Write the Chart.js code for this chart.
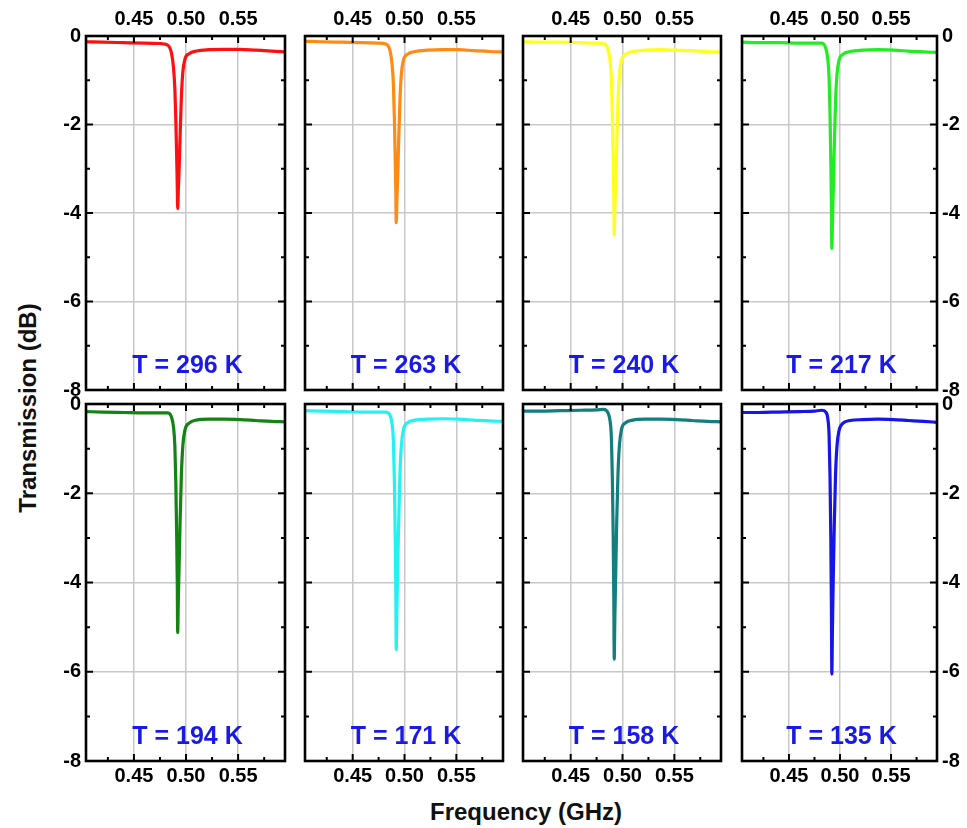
<!DOCTYPE html>
<html>
<head>
<meta charset="utf-8">
<script src="https://cdn.jsdelivr.net/npm/chart.js@4.4.1/dist/chart.umd.min.js"></script>
<style>
  body { margin: 0; background: #fff; }
  #wrap { position: relative; width: 967px; height: 828px; overflow: hidden; font-family: 'Liberation Sans', Arial, sans-serif; }
  #wrap canvas { position: absolute; }
  .axis-title { position: absolute; font-weight: bold; font-size: 24px; color: #111; white-space: nowrap; }
  #xTitle { left: 526px; top: 812px; transform: translate(-50%, -50%); }
  #yTitle { left: 28px; top: 408px; transform: translate(-50%, -50%) rotate(-90deg); }
</style>
</head>
<body>
<div id="wrap">
  <div class="axis-title" id="yTitle">Transmission (dB)</div>
  <div class="axis-title" id="xTitle">Frequency (GHz)</div>
</div>
<script>
// === Measured transmission (dB) vs frequency (GHz) ===
const freqGHz = [0.404, 0.42, 0.44, 0.46, 0.475, 0.482, 0.486, 0.488, 0.4893, 0.4902, 0.491, 0.4916, 0.492,
                 0.4926, 0.4934, 0.4944, 0.4956, 0.497, 0.499, 0.503, 0.51, 0.522, 0.537, 0.552, 0.567, 0.582, 0.595];

const temps = [296, 263, 240, 217, 194, 171, 158, 135];

const t296 = [-0.13, -0.14, -0.15, -0.16, -0.17, -0.2, -0.38, -0.72, -1.2, -1.9, -2.7, -3.4, -3.9,
              -3.5, -3.0, -2.2, -1.35, -0.8, -0.52, -0.4, -0.34, -0.31, -0.3, -0.3, -0.32, -0.34, -0.36];
const t263 = [-0.12, -0.13, -0.14, -0.15, -0.16, -0.18, -0.33, -0.64, -1.1, -1.85, -2.75, -3.55, -4.22,
              -3.75, -3.2, -2.35, -1.45, -0.85, -0.54, -0.41, -0.35, -0.32, -0.31, -0.31, -0.33, -0.35, -0.36];
const t240 = [-0.13, -0.14, -0.14, -0.15, -0.16, -0.17, -0.3, -0.57, -1.0, -1.8, -2.8, -3.7, -4.5,
              -3.95, -3.35, -2.45, -1.5, -0.88, -0.55, -0.41, -0.35, -0.32, -0.31, -0.32, -0.33, -0.35, -0.36];
const t217 = [-0.14, -0.15, -0.15, -0.16, -0.16, -0.16, -0.27, -0.52, -0.95, -1.75, -2.85, -3.85, -4.8,
              -4.2, -3.5, -2.5, -1.5, -0.88, -0.55, -0.41, -0.35, -0.32, -0.31, -0.32, -0.34, -0.36, -0.37];
const t194 = [-0.17, -0.18, -0.19, -0.2, -0.2, -0.2, -0.29, -0.52, -0.95, -1.75, -2.9, -4.0, -5.12,
              -4.4, -3.6, -2.55, -1.55, -0.92, -0.58, -0.43, -0.36, -0.34, -0.34, -0.35, -0.37, -0.39, -0.4];
const t171 = [-0.15, -0.16, -0.17, -0.18, -0.18, -0.18, -0.25, -0.45, -0.85, -1.7, -2.95, -4.2, -5.5,
              -4.65, -3.75, -2.6, -1.55, -0.92, -0.57, -0.42, -0.36, -0.34, -0.33, -0.34, -0.36, -0.38, -0.39];
const t158 = [-0.16, -0.16, -0.15, -0.14, -0.13, -0.12, -0.2, -0.38, -0.78, -1.65, -2.95, -4.35, -5.72,
              -4.8, -3.85, -2.65, -1.58, -0.93, -0.57, -0.42, -0.36, -0.34, -0.34, -0.35, -0.37, -0.39, -0.4];
const t135 = [-0.19, -0.19, -0.18, -0.17, -0.16, -0.14, -0.18, -0.32, -0.7, -1.6, -3.0, -4.6, -6.05,
              -5.0, -3.9, -2.7, -1.6, -0.95, -0.6, -0.43, -0.37, -0.35, -0.34, -0.35, -0.37, -0.39, -0.41];
const series = [t296, t263, t240, t217, t194, t171, t158, t135];

// === Axes ===
const xTicks = [0.45, 0.50, 0.55];
const xMinor = [0.425, 0.475, 0.525, 0.575];
const yTicks = [0, -2, -4, -6, -8];
const yMinor = [-1, -3, -5, -7];
const X_MIN = 0.404, X_MAX = 0.595;

// === Styles / layout ===
const lineColors = ['#ff1010', '#ff8a14', '#ffff1e', '#22ec22', '#138313', '#24f2f2', '#127e7e', '#1616e6'];
const colLeft = [86, 305, 523, 742];
const colWidth = [199, 198, 198, 195];
const rowTop = [36, 404];
const rowHeight = [354, 357];
const PAD = 50;
const FONT = '"Liberation Sans", Arial, sans-serif';
const tickFont = { family: FONT, size: 20, weight: 'bold' };

// frame, inward tick marks and the temperature label
const panelFrame = {
  id: 'panelFrame',
  afterDatasetsDraw(chart, args, opts) {
    const { ctx, chartArea: a, scales } = chart;
    const xs = scales.x, ys = scales.y;
    ctx.save();
    ctx.strokeStyle = '#000';
    ctx.lineWidth = 2;
    ctx.beginPath();
    xTicks.map(v => [v, 7]).concat(xMinor.map(v => [v, 4])).forEach(([v, len]) => {
      const px = xs.getPixelForValue(v);
      ctx.moveTo(px, a.top); ctx.lineTo(px, a.top + len);
      ctx.moveTo(px, a.bottom); ctx.lineTo(px, a.bottom - len);
    });
    yTicks.map(v => [v, 7]).concat(yMinor.map(v => [v, 4])).forEach(([v, len]) => {
      const py = ys.getPixelForValue(v);
      ctx.moveTo(a.left, py); ctx.lineTo(a.left + len, py);
      ctx.moveTo(a.right, py); ctx.lineTo(a.right - len, py);
    });
    ctx.stroke();
    ctx.lineWidth = 2.6;
    ctx.strokeRect(a.left, a.top, a.right - a.left, a.bottom - a.top);

    ctx.fillStyle = '#1a1ae6';
    ctx.font = 'bold 25px ' + FONT;
    ctx.textAlign = 'center';
    ctx.textBaseline = 'middle';
    ctx.fillText(opts.label, (a.left + a.right) / 2 + 2, a.bottom - 24);
    ctx.restore();
  }
};

function xScale(position, showLabels) {
  return {
    type: 'linear', position, min: X_MIN, max: X_MAX,
    afterBuildTicks: s => { s.ticks = xTicks.map(v => ({ value: v })); },
    afterFit: s => { s.height = PAD; },
    grid: { display: position === 'bottom', color: '#c8c8c8', lineWidth: 1.5, drawTicks: false },
    border: { display: false },
    ticks: { display: showLabels, padding: position === 'top' ? 5 : 3, color: '#000', font: tickFont,
             maxRotation: 0, autoSkip: false, callback: v => v.toFixed(2) }
  };
}

function yScale(position, showLabels) {
  return {
    type: 'linear', position, min: -8, max: 0,
    afterBuildTicks: s => { s.ticks = yTicks.map(v => ({ value: v })); },
    afterFit: s => { s.width = PAD; },
    grid: { display: position === 'left', color: '#c8c8c8', lineWidth: 1.5, drawTicks: false },
    border: { display: false },
    ticks: { display: showLabels, padding: 5, color: '#000', font: tickFont, callback: v => String(v) }
  };
}

const wrap = document.getElementById('wrap');

temps.forEach((t, i) => {
  const row = Math.floor(i / 4), col = i % 4;
  const canvas = document.createElement('canvas');
  canvas.width = colWidth[col] + 2 * PAD;
  canvas.height = rowHeight[row] + 2 * PAD;
  canvas.style.left = (colLeft[col] - PAD) + 'px';
  canvas.style.top = (rowTop[row] - PAD) + 'px';
  wrap.appendChild(canvas);

  new Chart(canvas, {
    type: 'line',
    data: {
      datasets: [{
        data: freqGHz.map((f, k) => ({ x: f, y: series[i][k] })),
        borderColor: lineColors[i],
        borderWidth: 3.2,
        pointRadius: 0,
        cubicInterpolationMode: 'monotone',
        fill: false
      }]
    },
    options: {
      responsive: false,
      animation: false,
      devicePixelRatio: 1,
      layout: { padding: 0 },
      plugins: {
        legend: { display: false },
        tooltip: { enabled: false },
        panelFrame: { label: 'T = ' + t + ' K' }
      },
      scales: {
        x: xScale('bottom', row === 1),
        x2: xScale('top', row === 0),
        y: yScale('left', col === 0),
        y2: yScale('right', col === 3)
      }
    },
    plugins: [panelFrame]
  });
});
</script>
</body>
</html>
